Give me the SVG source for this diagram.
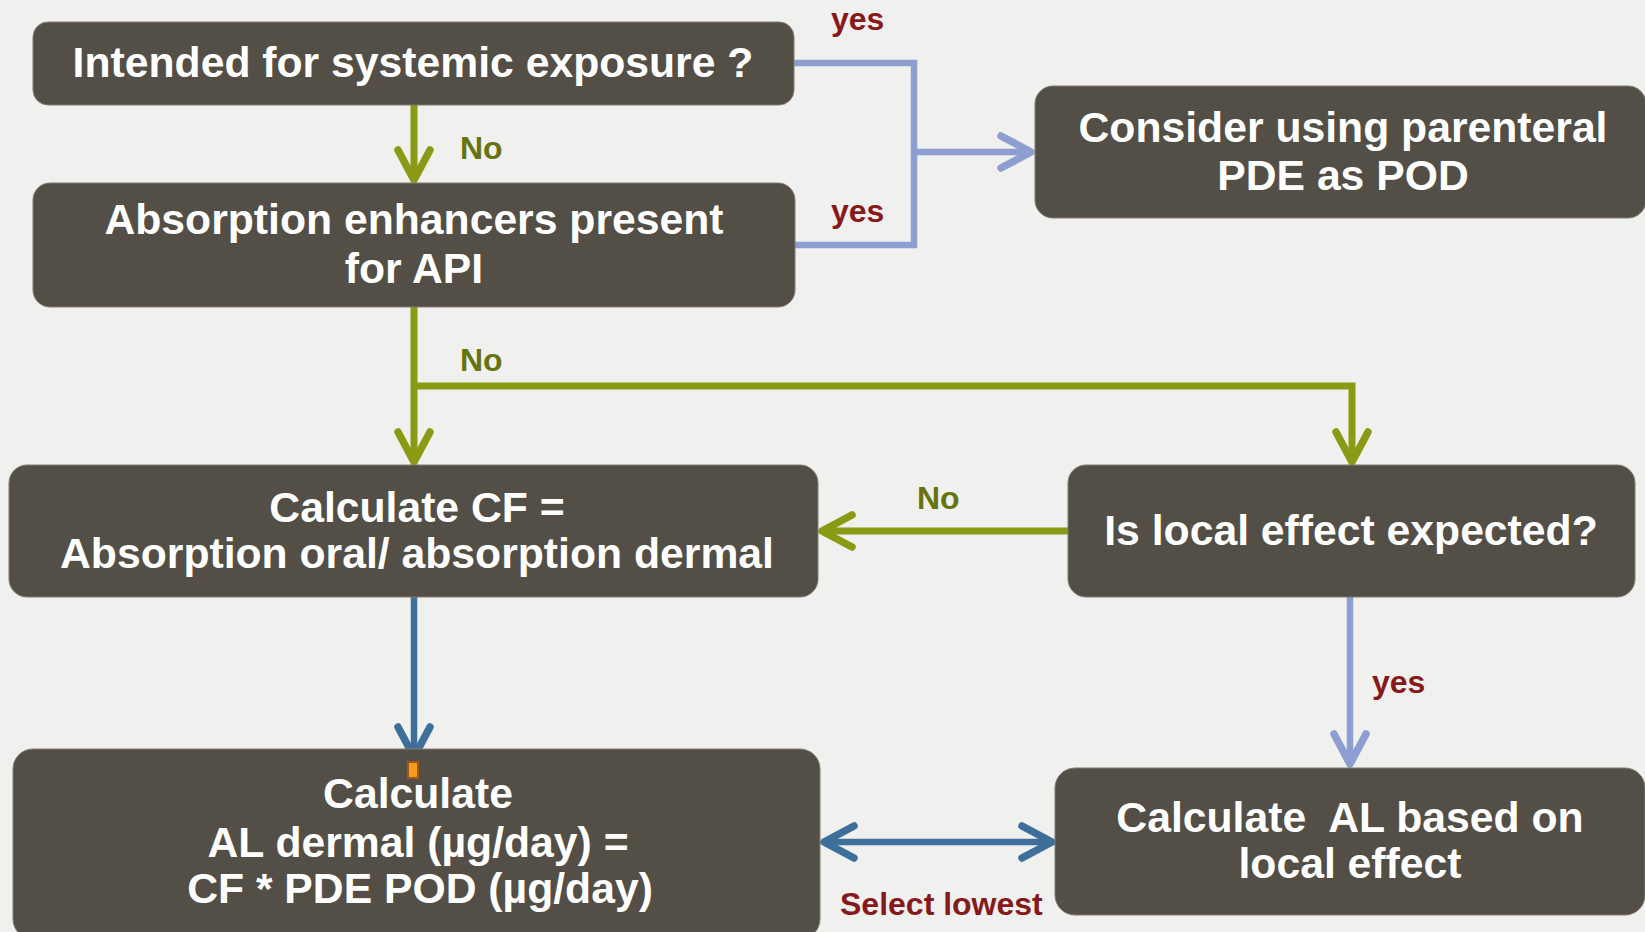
<svg xmlns="http://www.w3.org/2000/svg" width="1645" height="932" viewBox="0 0 1645 932">
<style>
.box{fill:#544f46;stroke:#807a70;stroke-width:1}
.t{font-family:"Liberation Sans",Arial,sans-serif;font-weight:bold;font-size:42.7px;fill:#ffffff;text-anchor:middle;white-space:pre}
.lbl{font-family:"Liberation Sans",Arial,sans-serif;font-weight:bold;font-size:32px}
.no{fill:#66740f}
.yes{fill:#86191a}
.g{fill:none;stroke:#8b9a14;stroke-width:7}
.lb{fill:none;stroke:#8c9fd0;stroke-width:6.5}
.db{fill:none;stroke:#3e6f9b;stroke-width:6.5}
</style>
<defs>
<marker id="ag" viewBox="-40 -24 48 48" refX="0" refY="0" markerWidth="48" markerHeight="48" markerUnits="userSpaceOnUse" orient="auto-start-reverse">
<path d="M-30,-16 L0,0 L-30,16" fill="none" stroke="#8b9a14" stroke-width="7.5" stroke-linecap="round" stroke-linejoin="round"/>
</marker>
<marker id="alb" viewBox="-40 -24 48 48" refX="0" refY="0" markerWidth="48" markerHeight="48" markerUnits="userSpaceOnUse" orient="auto-start-reverse">
<path d="M-30,-16 L0,0 L-30,16" fill="none" stroke="#8c9fd0" stroke-width="7.5" stroke-linecap="round" stroke-linejoin="round"/>
</marker>
<marker id="adb" viewBox="-40 -24 48 48" refX="0" refY="0" markerWidth="48" markerHeight="48" markerUnits="userSpaceOnUse" orient="auto-start-reverse">
<path d="M-30,-16 L0,0 L-30,16" fill="none" stroke="#3e6f9b" stroke-width="7.5" stroke-linecap="round" stroke-linejoin="round"/>
</marker>
</defs>
<rect x="0" y="0" width="1645" height="932" fill="#f0f0ef"/>

<g id="connectors">
<path class="g" d="M414,105 L414,180" marker-end="url(#ag)"/>
<path class="g" d="M414,307 L414,462" marker-end="url(#ag)"/>
<path class="g" d="M414,386 L1352,386 L1352,462" marker-end="url(#ag)"/>
<path class="g" d="M1068,531 L822,531" marker-end="url(#ag)"/>
<path class="lb" d="M794,63 L914,63 L914,245 L795,245"/>
<path class="lb" d="M914,152 L1031,152" marker-end="url(#alb)"/>
<path class="lb" d="M1350,597 L1350,764" marker-end="url(#alb)"/>
<path class="db" d="M414,597 L414,757" marker-end="url(#adb)"/>
<path class="db" d="M824,842 L1052,842" marker-start="url(#adb)" marker-end="url(#adb)"/>
<text class="lbl yes" x="831" y="30">yes</text>
<text class="lbl yes" x="831" y="222">yes</text>
<text class="lbl no" x="460" y="159">No</text>
<text class="lbl no" x="460" y="371">No</text>
<text class="lbl no" x="917" y="509">No</text>
<text class="lbl yes" x="1372" y="693">yes</text>
<text class="lbl yes" x="840" y="915">Select lowest</text>
</g>

<g id="n1">
<rect class="box" x="33" y="22" width="761" height="83" rx="15"/>
<text class="t" x="413" y="77">Intended for systemic exposure ?</text>
</g>
<g id="n2">
<rect class="box" x="33" y="183" width="762" height="124" rx="17"/>
<text class="t" x="414" y="234">Absorption enhancers present</text>
<text class="t" x="414" y="283">for API</text>
</g>
<g id="n3">
<rect class="box" x="1035" y="86" width="611" height="132" rx="18"/>
<text class="t" x="1343" y="142">Consider using parenteral</text>
<text class="t" x="1343" y="190">PDE as POD</text>
</g>
<g id="n4">
<rect class="box" x="9" y="465" width="809" height="132" rx="18"/>
<text class="t" x="417" y="522">Calculate CF =</text>
<text class="t" x="417" y="568">Absorption oral/ absorption dermal</text>
</g>
<g id="n5">
<rect class="box" x="1068" y="465" width="567" height="132" rx="18"/>
<text class="t" x="1351" y="545">Is local effect expected?</text>
</g>
<g id="n6">
<rect class="box" x="13" y="749" width="807" height="190" rx="20"/>
<rect x="408" y="762" width="10" height="16" fill="#f39b1f" stroke="#9c5a14" stroke-width="2"/>
<text class="t" x="418" y="808">Calculate</text>
<text class="t" x="418" y="857">AL dermal (µg/day) =</text>
<text class="t" x="420" y="903">CF * PDE POD (µg/day)</text>
</g>
<g id="n7">
<rect class="box" x="1055" y="768" width="590" height="147" rx="20"/>
<text class="t" x="1350" y="832">Calculate  AL based on</text>
<text class="t" x="1350" y="878">local effect</text>
</g>
</svg>
